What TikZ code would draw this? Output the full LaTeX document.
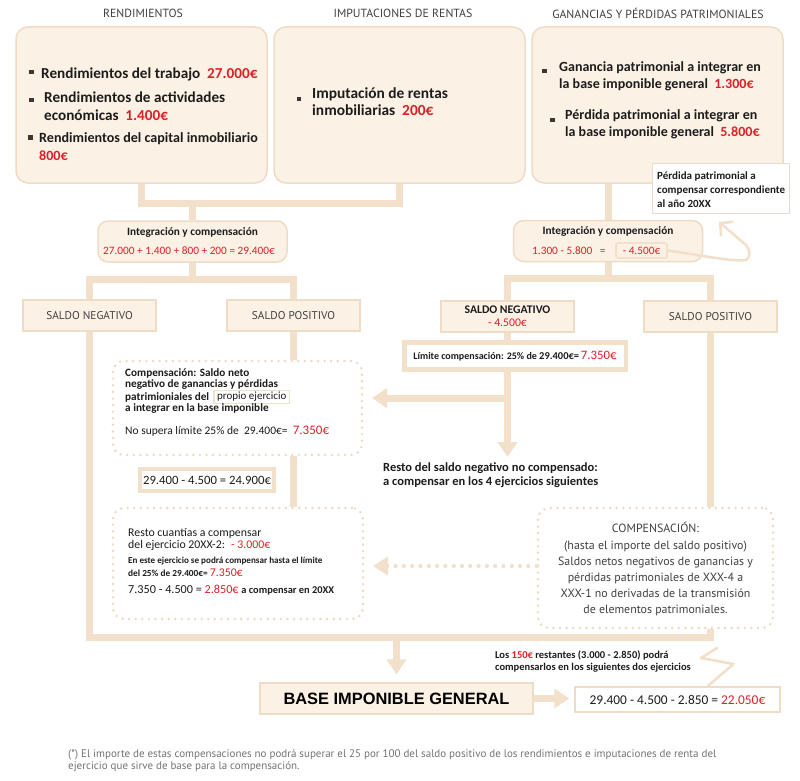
\documentclass[tikz,border=0pt]{standalone}
\usepackage{fontspec}
\setmainfont{Carlito}
\newfontfamily\hfont{PT Sans}
\newfontfamily\afont{Liberation Sans}
\usetikzlibrary{arrows.meta,calc,backgrounds}
\definecolor{cream}{RGB}{252,241,229}
\definecolor{tanc}{RGB}{242,224,203}
\definecolor{bord}{RGB}{238,220,198}
\definecolor{dotc}{RGB}{236,217,194}
\definecolor{calb}{RGB}{228,220,210}
\definecolor{myred}{RGB}{220,32,40}
\definecolor{hd}{RGB}{64,64,64}
\definecolor{txt}{RGB}{28,28,28}
\definecolor{fng}{RGB}{115,115,115}
\definecolor{bul}{RGB}{60,55,50}
\newcommand{\fsz}[1]{\fontsize{#1}{#1}\selectfont}
\newcommand{\rdc}[1]{\textcolor{myred}{#1}}
\begin{document}
\begin{tikzpicture}[x=1pt,y=-1pt,
 every node/.style={inner sep=0pt, text=txt},
 bigbox/.style={rectangle,rounded corners=12pt,draw=bord,line width=1.5pt,fill=cream,minimum width=251pt,minimum height=156pt},
 head/.style={font=\hfont\fsz{11.8}, text=hd},
 bt/.style={anchor=west,align=left,font=\bfseries\fontsize{15.2}{18}\selectfont},
 intbox/.style={rectangle,rounded corners=10pt,draw=bord,line width=1.5pt,fill=cream,minimum width=189pt,minimum height=41pt},
 sbox/.style={rectangle,draw=bord,line width=1.5pt,fill=cream,minimum width=133pt,minimum height=31pt},
 wbox/.style={rectangle,draw=tanc,line width=4.5pt,fill=white},
 dotbox/.style={rectangle,rounded corners=11pt,draw=dotc,line width=2.7pt,dash pattern=on 0pt off 6.6pt,line cap=round},
 conn/.style={draw=tanc,line width=7pt},
 arr/.style={conn,-{Triangle[length=15pt,width=19pt]}},
 dotarr/.style={draw=tanc,line width=4.2pt,line cap=round,dash pattern=on 0pt off 8.3pt,-{Triangle[length=15pt,width=18pt]}},
 hand/.style={draw=tanc,line width=2.6pt,line cap=round,line join=round},
 lt/.style={anchor=west},
]
\useasboundingbox (0,0) rectangle (800,781);

% headings
\node[head] (h1) at (143,13) {RENDIMIENTOS};
\node[head] (h2) at (403,13) {IMPUTACIONES DE RENTAS};
\node[head] (h3) at (658,13) {GANANCIAS Y PÉRDIDAS PATRIMONIALES};

% top boxes
\node[bigbox] (b1) at (141.5,105) {};
\node[bigbox] (b2) at (399.5,105) {};
\node[bigbox] (b3) at (657.5,105) {};

\fill[bul] (29,70) rectangle ++(4.5,4.5);
\fill[bul] (29,98) rectangle ++(4.5,4.5);
\fill[bul] (28,135) rectangle ++(4.5,4.5);
\fill[bul] (296.5,97) rectangle ++(4.5,4.5);
\fill[bul] (542,69) rectangle ++(4.5,4.5);
\fill[bul] (550,118) rectangle ++(4.5,4.5);

\node[bt] (t1a) at (41,74) {Rendimientos del trabajo \ \rdc{27.000€}};
\node[bt] (t1b) at (44,106) {Rendimientos de actividades\\económicas \ \rdc{1.400€}};
\node[bt,font=\bfseries\fontsize{14.1}{18}\selectfont] (t1c) at (39,147) {Rendimientos del capital inmobiliario\\\rdc{800€}};
\node[bt,font=\bfseries\fontsize{15.4}{17}\selectfont] (t2) at (312,101.5) {Imputación de rentas\\inmobiliarias \ \rdc{200€}};
\node[bt,font=\bfseries\fontsize{14}{17}\selectfont] (t3a) at (559,76.5) {Ganancia patrimonial a integrar en\\la base imponible general \ \rdc{1.300€}};
\node[bt,font=\bfseries\fontsize{14}{17}\selectfont] (t3b) at (565,124.5) {Pérdida patrimonial a integrar en\\la base imponible general \ \rdc{5.800€}};

% callout
\node[rectangle,draw=calb,line width=1pt,fill=white,minimum width=137pt,minimum height=50pt,anchor=north west] (cal) at (652,163) {};
\node[anchor=west,align=left,font=\bfseries\fontsize{11}{14}\selectfont] (calt) at (657,190) {Pérdida patrimonial a\\compensar correspondiente\\al año 20XX};

% integration boxes
\node[intbox] (i1) at (192.5,241.5) {};
\node[font=\bfseries\fsz{11.3}] (i1a) at (192.5,232) {Integración y compensación};
\node[font=\fsz{11.3}] (i1b) at (189,251) {\rdc{27.000 + 1.400 + 800 + 200 = 29.400€}};

\node[intbox] (i2) at (608,241) {};
\node[font=\bfseries\fsz{11.3}] (i2a) at (608,231) {Integración y compensación};
\node[lt,font=\fsz{11.3}] (i2b) at (532,251) {\rdc{1.300 - 5.800 \ \ = }};
\node[rectangle,rounded corners=2pt,draw=tanc,line width=1.6pt,minimum width=51pt,minimum height=15pt,font=\fsz{11.3}] (m45) at (641.5,250.5) {\rdc{- 4.500€}};

% saldo boxes
\node[sbox,font=\hfont\fsz{11.3},text=hd] (sn1) at (89.5,315.5) {SALDO NEGATIVO};
\node[sbox,font=\hfont\fsz{11.3},text=hd] (sp1) at (293.5,315.5) {SALDO POSITIVO};
\node[sbox,align=center,font=\fontsize{11.7}{13}\selectfont] (snR) at (507.5,316.5) {{\bfseries SALDO NEGATIVO}\\\rdc{- 4.500€}};
\node[sbox,font=\hfont\fsz{11.3},text=hd] (spR) at (710.5,316.5) {SALDO POSITIVO};

% limite
\node[wbox,minimum width=221.5pt,minimum height=27pt] (lim) at (515,356) {{\bfseries\fsz{10}Límite compensación: 25\% de }{\bfseries\fsz{10.5}29.400€=\,}\rdc{\fsz{12.8}7.350€}};

% compensation box 1
\node[dotbox,minimum width=249pt,minimum height=94pt] (c1) at (237.5,408) {};
\node[lt,font=\bfseries\fsz{11.2}] (c1a) at (125,373) {Compensación: Saldo neto};
\node[lt,font=\bfseries\fsz{11.2}] (c1b) at (125,385) {negativo de ganancias y pérdidas};
\node[lt,font=\bfseries\fsz{11.2}] (c1c) at (125,397) {patrimioniales del};
\node[lt,rectangle,draw=tanc,line width=1.5pt,fill=white,inner xsep=3pt,inner ysep=2pt,font=\fsz{11}] (pe) at ([xshift=4pt]c1c.east) {propio ejercicio};
\node[lt,font=\bfseries\fsz{11.2}] (c1d) at (125,409) {a integrar en la base imponible};
\node[lt,font=\fsz{11.5}] (c1e) at (125,431) {No supera límite 25\% de \ 29.400€= \ \rdc{\fsz{13}7.350€}};

% result 1
\node[wbox,line width=4pt,minimum width=134pt,minimum height=22pt,font=\fsz{12.7}] (r1) at (207,480) {29.400 - 4.500 = 24.900€};

% resto
\node[lt,align=left,font=\bfseries\fontsize{12.5}{14.5}\selectfont] (resto) at (383,475) {Resto del saldo negativo no compensado:\\a compensar en los 4 ejercicios siguientes};

% compensation box 2
\node[dotbox,minimum width=250pt,minimum height=111pt] (c2) at (238,563.5) {};
\node[lt,font=\fsz{11.8}] (c2a) at (128,533) {Resto cuantías a compensar};
\node[lt,font=\fsz{11.8}] (c2b) at (128,545.5) {del ejercicio 20XX-2: \ \rdc{- 3.000€}};
\node[lt,font=\bfseries\fsz{9.1}] (c2c) at (128,561) {En este ejercicio se podrá compensar hasta el límite};
\node[lt,font=\bfseries\fsz{9.3}] (c2d) at (128,573) {del 25\% de 29.400€= \rdc{\mdseries\fsz{11.8}7.350€}};
\node[lt,font=\fsz{12.2}] (c2e) at (128,590) {7.350 - 4.500 = \rdc{2.850€} {\bfseries\fsz{10.4}a compensar en 20XX}};

% compensation box 3
\node[dotbox,minimum width=235pt,minimum height=120pt] (c3) at (655.5,568) {};
\node[align=center,font=\hfont\fontsize{11.9}{16.2}\selectfont,text=hd] (c3t) at (655.5,569.5) {COMPENSACIÓN:\\(hasta el importe del saldo positivo)\\Saldos netos negativos de ganancias y\\pérdidas patrimoniales de XXX-4 a\\XXX-1 no derivadas de la transmisión\\de elementos patrimoniales.};

% base and result
\node[sbox,minimum width=273pt,minimum height=31pt,font=\afont\bfseries\fsz{16.4},text=black] (base) at (396.5,698.5) {BASE IMPONIBLE GENERAL};
\node[rectangle,draw=bord,line width=1.5pt,fill=white,minimum width=205pt,minimum height=25pt,font=\fsz{13.4}] (res) at (677.5,699.5) {29.400 - 4.500 - 2.850 = \rdc{22.050€}};

\node[lt,align=left,font=\bfseries\fontsize{10.5}{12}\selectfont] (los) at (495,661.7) {Los \rdc{150€} restantes (3.000 - 2.850) podrá\\compensarlos en los siguientes dos ejercicios};

% footnote
\node[lt,align=left,font=\hfont\fontsize{11}{12.6}\selectfont,text=fng] (fn) at (68,760.5) {(*) El importe de estas compensaciones no podrá superar el 25 por 100 del saldo positivo de los rendimientos e imputaciones de renta del\\ejercicio que sirve de base para la compensación.};

% coordinates
\coordinate (j1) at (270,203);
\coordinate (j2) at (608,278.5);
\coordinate (bot) at (710.5,637);
\coordinate (dtip) at (507.5,457);
\coordinate (ltip) at (372,398);
\coordinate (dottip) at (373,566);
\coordinate (rtip) at ($(res.west)+(-5,-1)$);
\coordinate (h1a) at (746,260);
\coordinate (h1tip) at (719,222);
\coordinate (h2a) at (733.5,664);
\coordinate (h2b) at (701,658);
\coordinate (h2c) at (717,648);

\begin{scope}[on background layer]
\fill[white] (0,0) rectangle (800,781);
\draw[conn] (b1.south) |- (j1) -| (b2.south);
\draw[conn] (i1.north) -- (i1.north |- j1);
\draw[conn] (i1.south) -- ++(0,17);
\draw[conn] (sn1.north) |- ($(i1.south)+(0,16.5)$) -| (sp1.north);
\draw[conn] (i2.north) -- (i2.north |- b3.south);
\draw[conn] (i2.south) -- (j2);
\draw[conn] (snR.north) |- (j2) -| (spR.north);
\draw[conn] (snR.south) -- (snR.south |- lim.north);
\draw[arr] (snR.south |- lim.south) -- (dtip);
\draw[arr] (ltip -| snR) -- (ltip);
\draw[conn] (sp1.south) -- (sp1.south |- c1.north);
\draw[conn] (sp1.south |- c1.south) -- (sp1.south |- c2.north);
\draw[conn] (spR.south) -- (spR.south |- c3.north);
\draw[conn] (sn1.south) |- (bot) -- (bot |- c3.south);
\draw[arr] (base.north |- bot) -- ([yshift=8pt]base.north);
\draw[arr] (base.east) -- (rtip);
\end{scope}

\draw[dotarr] (c3.west |- dottip) -- (dottip);
\draw[hand,-{Straight Barb[length=9pt,width=19pt]}] (m45.east) .. controls (700,255) and (732,262) .. (h1a) .. controls (751,257) and (750,250) .. (746,245) -- (h1tip);
\draw[hand] ([xshift=30pt]res.north) -- (h2a) -- (h2b) -- (h2c);
\end{tikzpicture}
\end{document}
